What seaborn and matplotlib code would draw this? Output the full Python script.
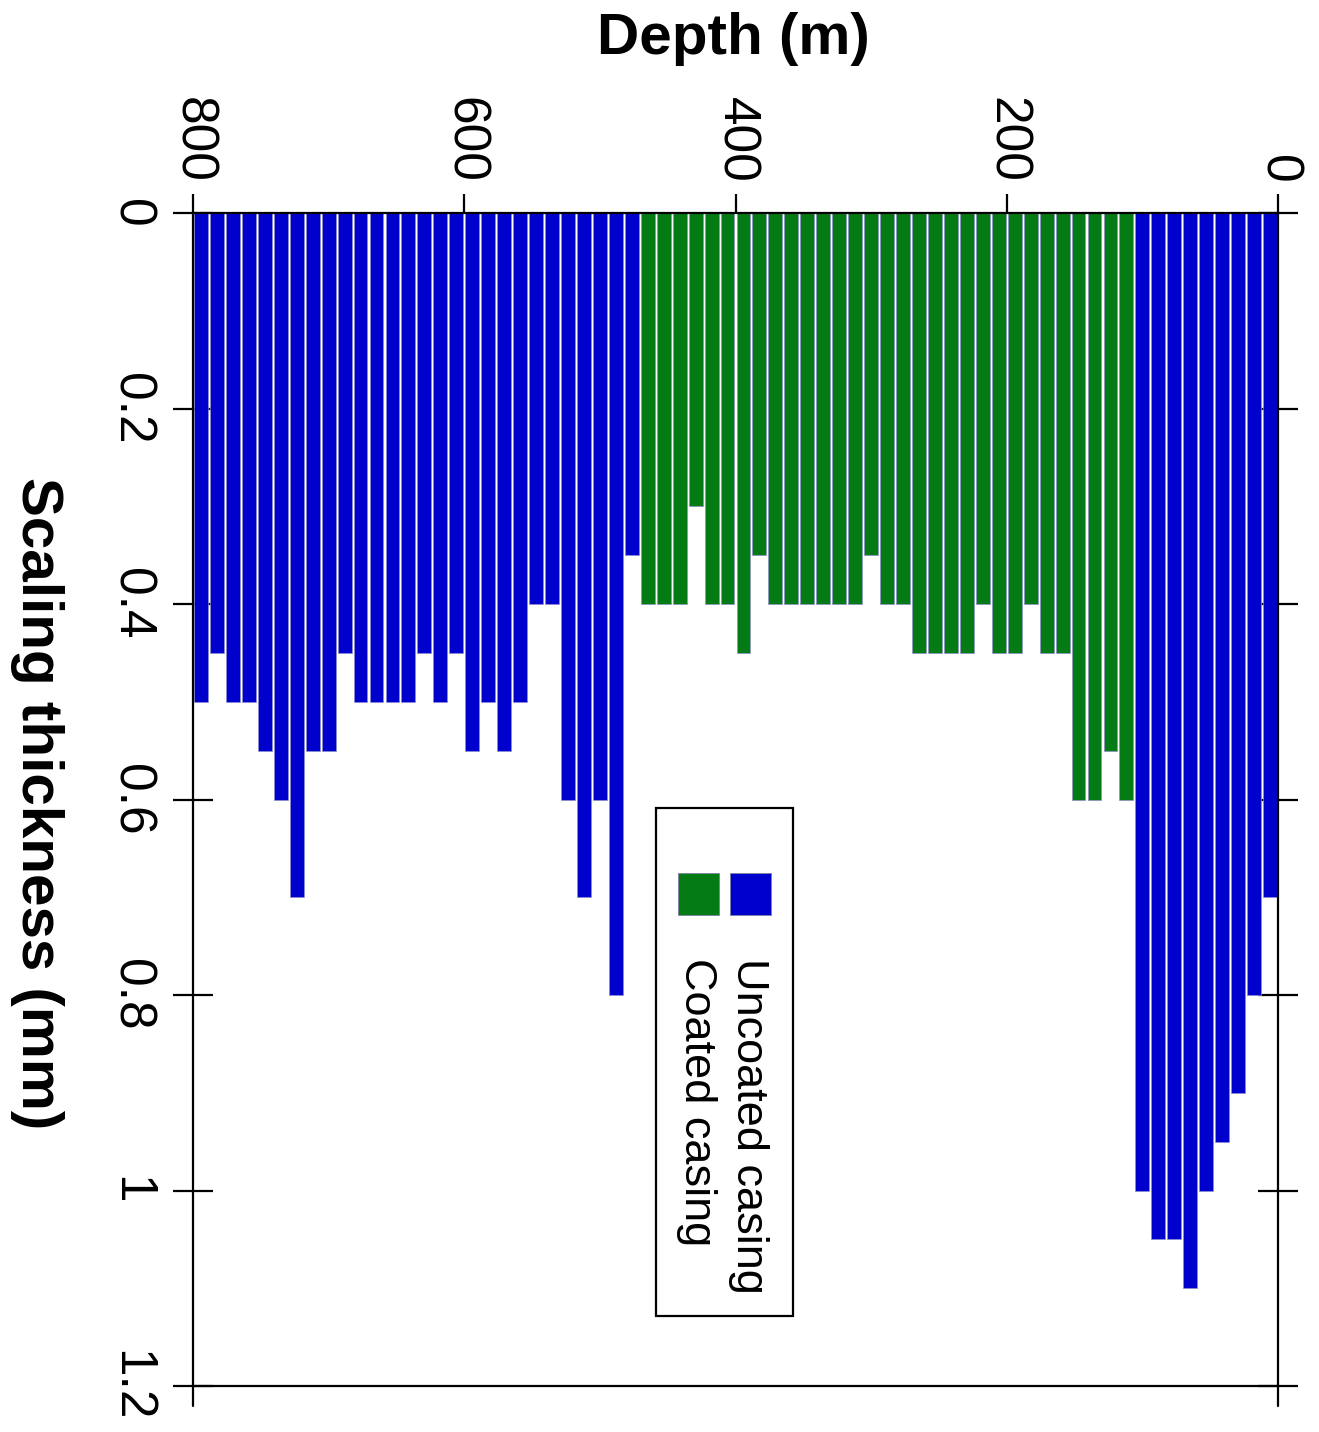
import numpy as np
import pandas as pd
import seaborn as sns
import matplotlib.pyplot as plt
from matplotlib.patches import Rectangle
from matplotlib.lines import Line2D

# Scaling thickness (mm) per casing joint, listed from the deepest joint (800 m) up to the surface (0 m)
uncoated_deep = [0.5, 0.45, 0.5, 0.5, 0.55, 0.6, 0.7, 0.55, 0.55, 0.45, 0.5, 0.5, 0.5, 0.5,
                 0.45, 0.5, 0.45, 0.55, 0.5, 0.55, 0.5, 0.4, 0.4, 0.6, 0.7, 0.6, 0.8, 0.35]
coated = [0.4, 0.4, 0.4, 0.3, 0.4, 0.4, 0.45, 0.35, 0.4, 0.4, 0.4, 0.4, 0.4, 0.4, 0.35, 0.4,
          0.4, 0.45, 0.45, 0.45, 0.45, 0.4, 0.45, 0.45, 0.4, 0.45, 0.45, 0.6, 0.6, 0.55, 0.6]
uncoated_shallow = [1.0, 1.05, 1.05, 1.1, 1.0, 0.95, 0.9, 0.8, 0.7]

total_depth = 800
depth_ticks = [800, 600, 400, 200, 0]
thick_ticks = [0, 0.2, 0.4, 0.6, 0.8, 1.0, 1.2]
thick_tick_labels = ["0", "0.2", "0.4", "0.6", "0.8", "1", "1.2"]
labels = ["Uncoated casing", "Coated casing"]
colors = {"Uncoated casing": "#0000CD", "Coated casing": "#047B14"}

thickness = uncoated_deep + coated + uncoated_shallow
casing = ([labels[0]] * len(uncoated_deep) + [labels[1]] * len(coated)
          + [labels[0]] * len(uncoated_shallow))
n = len(thickness)
joint = total_depth / n
depth_mid = total_depth - (np.arange(n) + 0.5) * joint
df = pd.DataFrame({"depth": depth_mid, "thickness": thickness, "casing": casing})

sns.set_style("ticks")
plt.rcParams["font.family"] = ["Liberation Sans", "DejaVu Sans"]
plt.rcParams["text.color"] = "black"
plt.rcParams["axes.labelcolor"] = "black"
plt.rcParams["xtick.color"] = "black"
plt.rcParams["ytick.color"] = "black"

W, H = 1319, 1432
fig = plt.figure(figsize=(W / 100, H / 100), dpi=100)
L, R, T, B = 193, 1278, 213, 1386
ax = fig.add_axes([L / W, 1 - B / H, (R - L) / W, (B - T) / H])

sns.barplot(data=df, x="depth", y="thickness", hue="casing", palette=colors,
            native_scale=True, dodge=False, width=0.87, saturation=1,
            linewidth=0.5, edgecolor="#9090c8", legend=False, ax=ax)

ax.set_xlim(total_depth, 0)
ax.set_ylim(1.2, 0)
ax.set_xlabel("")
ax.set_ylabel("")

for s in ax.spines.values():
    s.set_visible(True)
    s.set_linewidth(1.6)
    s.set_color("black")

ax.xaxis.tick_top()
ax.set_xticks(depth_ticks)
ax.set_xticklabels([str(d) for d in depth_ticks])
ax.tick_params(axis="x", direction="out", length=13.5, width=1.6, labelsize=37,
               pad=8, labelrotation=-90, colors="black")

ax.set_yticks(thick_ticks)
ax.set_yticklabels(thick_tick_labels)
ax.tick_params(axis="y", direction="inout", length=28.5, width=1.6, left=True,
               right=True, labelleft=True, labelright=False, labelsize=37,
               pad=13, labelrotation=-90, colors="black")
for lab in ax.get_yticklabels():
    lab.set_va("center")

# short extensions of the side lines below the bottom edge
ext = 20 / (B - T)
for xf in (0, 1):
    ax.add_line(Line2D([xf, xf], [0, -ext], transform=ax.transAxes, clip_on=False,
                       lw=1.6, color="black"))

fig.text(733 / W, 1 - 39 / H, "Depth (m)", ha="center", va="center",
         fontsize=42, fontweight="bold", color="black")
fig.text(37 / W, 1 - 803 / H, "Scaling thickness (mm)", ha="center", va="center",
         rotation=-90, fontsize=42, fontweight="bold", color="black")

# rotated legend
def fx(px):
    return px / W

def fy(py):
    return 1 - py / H

fig.add_artist(Rectangle((fx(656), fy(1316)), fx(793) - fx(656), fy(808) - fy(1316),
                         transform=fig.transFigure, facecolor="white", edgecolor="black",
                         lw=1.6, zorder=5))
for lab, x0, xt in [(labels[0], 730, 749), (labels[1], 678, 697)]:
    fig.add_artist(Rectangle((fx(x0), fy(915)), fx(41), 42 / H, transform=fig.transFigure,
                             facecolor=colors[lab], edgecolor="#8080a0", lw=0.6, zorder=6))
    fig.text(fx(xt), fy(958), lab, ha="center", va="top", rotation=-90,
             fontsize=32.5, color="black", zorder=7)

fig.savefig("out.png", dpi=100)
